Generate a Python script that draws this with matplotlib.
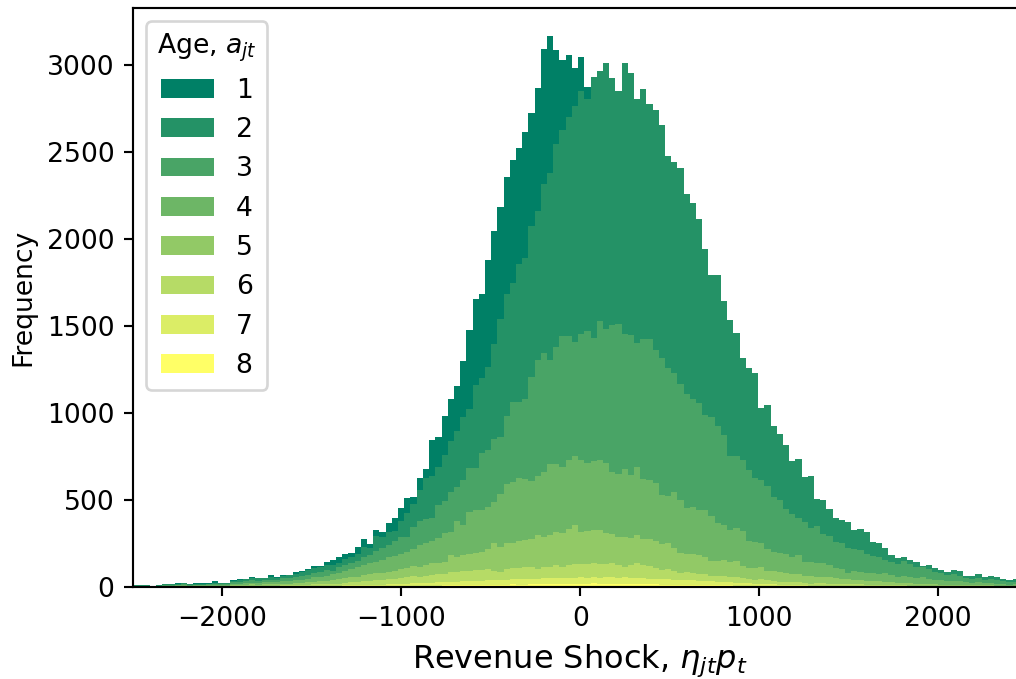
import matplotlib
matplotlib.use("Agg")
import matplotlib.pyplot as plt
import numpy as np

# revenue shock histogram: first bin edge and bin width
bin_start = -2510.4
bin_width = 34.7

# firm counts per bin, one list per age
age_1 = [
    0, 1, 0, 0, 1, 2, 0, 2, 2, 0,
    1, 8, 1, 9, 1, 1, 3, 4, 3, 5,
    2, 2, 14, 2, 5, 3, 10, 6, 9, 15,
    8, 16, 29, 34, 31, 27, 40, 44, 19, 34,
    25, 48, 76, 71, 82, 42, 71, 54, 207, 172,
    226, 237, 258, 322, 454, 496, 479, 617, 648, 646,
    675, 708, 666, 727, 650, 706, 773, 787, 539, 403,
    359, 213, 194, 65, 0, 0, 0, 0, 0, 0,
    0, 0, 0, 0, 0, 0, 0, 0, 0, 0,
    0, 0, 0, 0, 0, 0, 0, 0, 0, 0,
    0, 0, 0, 0, 0, 0, 0, 0, 0, 0,
    0, 0, 0, 0, 0, 0, 0, 0, 0, 0,
    0, 0, 0, 0, 0, 0, 0, 0, 0, 0,
    0, 0, 0, 0, 0, 0, 0, 0, 0, 0,
    0, 0, 0,
]
age_2 = [
    3, 2, 4, 2, 3, 4, 5, 5, 6, 5,
    6, 4, 5, 6, 7, 6, 9, 11, 12, 14,
    13, 14, 13, 14, 17, 18, 19, 25, 26, 26,
    29, 32, 32, 19, 33, 30, 37, 58, 42, 86,
    63, 77, 56, 96, 142, 134, 176, 235, 243, 221,
    263, 293, 324, 364, 337, 473, 431, 473, 549, 679,
    700, 683, 798, 810, 869, 859, 971, 1078, 1168, 1183,
    1256, 1358, 1398, 1333, 1500, 1439, 1529, 1420, 1339, 1557,
    1509, 1404, 1438, 1350, 1378, 1337, 1216, 1212, 1241, 1149,
    1126, 1053, 956, 817, 871, 771, 781, 706, 585, 583,
    602, 411, 464, 407, 376, 365, 303, 341, 254, 299,
    154, 195, 155, 135, 134, 153, 112, 120, 124, 82,
    81, 67, 42, 29, 19, 23, 29, 8, 23, 19,
    16, 18, 26, 26, 15, 17, 21, 14, 19, 17,
    12, 10, 14,
]
age_3 = [
    3, 3, 2, 2, 2, 4, 4, 5, 5, 4,
    5, 4, 5, 6, 6, 6, 9, 10, 11, 13,
    13, 12, 14, 13, 16, 16, 19, 21, 23, 27,
    28, 32, 19, 35, 32, 39, 38, 48, 48, 61,
    71, 71, 88, 95, 82, 127, 140, 138, 129, 191,
    188, 230, 192, 259, 253, 243, 329, 331, 360, 324,
    388, 456, 435, 458, 594, 668, 687, 595, 672, 750,
    712, 654, 722, 760, 707, 798, 765, 846, 859, 777,
    804, 712, 804, 808, 767, 790, 737, 681, 664, 656,
    623, 617, 544, 570, 558, 518, 422, 414, 412, 407,
    369, 366, 363, 316, 305, 257, 246, 213, 230, 197,
    210, 169, 167, 153, 150, 140, 122, 125, 108, 99,
    95, 80, 73, 77, 88, 76, 67, 59, 56, 48,
    42, 35, 36, 34, 24, 23, 26, 20, 23, 22,
    16, 14, 15,
]
age_4 = [
    2, 2, 2, 2, 2, 3, 3, 4, 4, 3,
    4, 4, 4, 5, 4, 5, 7, 8, 9, 10,
    10, 11, 11, 11, 14, 14, 16, 18, 20, 24,
    26, 28, 35, 38, 44, 45, 54, 57, 61, 67,
    76, 82, 84, 89, 96, 95, 124, 125, 130, 144,
    162, 134, 211, 172, 243, 250, 240, 240, 240, 307,
    343, 351, 361, 351, 334, 335, 370, 408, 389, 380,
    401, 397, 418, 391, 397, 402, 403, 356, 365, 390,
    362, 391, 343, 341, 328, 280, 272, 322, 303, 263,
    271, 259, 269, 255, 215, 199, 184, 188, 198, 157,
    149, 136, 124, 109, 107, 109, 102, 110, 80, 79,
    80, 78, 71, 57, 53, 38, 52, 48, 46, 45,
    43, 49, 41, 33, 39, 34, 30, 35, 29, 25,
    26, 22, 23, 20, 16, 15, 17, 13, 14, 12,
    9, 8, 9,
]
age_5 = [
    2, 2, 2, 1, 2, 2, 3, 3, 3, 3,
    3, 3, 3, 4, 4, 4, 5, 6, 7, 8,
    7, 8, 9, 8, 10, 10, 11, 12, 14, 16,
    17, 19, 22, 24, 26, 30, 31, 37, 41, 41,
    39, 44, 46, 49, 51, 59, 57, 60, 66, 62,
    70, 98, 86, 92, 96, 97, 105, 117, 157, 142,
    146, 144, 157, 157, 159, 198, 174, 184, 192, 195,
    205, 224, 184, 188, 190, 194, 182, 167, 161, 172,
    156, 161, 152, 154, 159, 146, 146, 132, 115, 105,
    109, 110, 100, 90, 84, 94, 88, 94, 69, 62,
    67, 69, 52, 56, 58, 52, 44, 46, 41, 42,
    38, 37, 35, 32, 30, 28, 27, 25, 23, 22,
    21, 18, 19, 16, 15, 15, 12, 13, 10, 9,
    9, 8, 8, 8, 6, 6, 7, 6, 6, 5,
    4, 4, 4,
]
age_6 = [
    1, 1, 1, 1, 1, 1, 1, 1, 2, 1,
    1, 1, 2, 2, 2, 2, 3, 3, 4, 5,
    5, 5, 5, 5, 6, 7, 7, 8, 9, 10,
    10, 11, 11, 12, 15, 16, 18, 20, 22, 24,
    26, 28, 31, 34, 36, 40, 38, 42, 45, 48,
    49, 56, 54, 60, 61, 62, 63, 64, 53, 47,
    62, 66, 64, 68, 70, 56, 66, 68, 73, 68,
    73, 81, 73, 81, 81, 79, 75, 81, 73, 60,
    75, 85, 75, 73, 62, 54, 60, 51, 43, 47,
    41, 37, 39, 30, 36, 34, 32, 31, 28, 26,
    21, 26, 23, 21, 17, 18, 17, 16, 15, 12,
    14, 13, 13, 11, 12, 10, 10, 10, 8, 8,
    8, 7, 7, 6, 6, 5, 5, 5, 4, 4,
    3, 3, 3, 3, 3, 3, 3, 2, 2, 2,
    2, 1, 1,
]
age_7 = [
    0, 0, 0, 0, 0, 1, 1, 1, 1, 1,
    1, 1, 1, 1, 1, 1, 2, 2, 2, 2,
    2, 2, 2, 2, 2, 2, 3, 3, 3, 4,
    4, 5, 5, 6, 6, 7, 7, 8, 8, 10,
    9, 11, 12, 12, 14, 15, 15, 16, 17, 18,
    18, 21, 20, 22, 22, 23, 24, 26, 28, 27,
    29, 30, 30, 31, 31, 32, 32, 33, 35, 32,
    34, 35, 37, 34, 36, 35, 37, 36, 34, 37,
    33, 36, 34, 33, 31, 32, 30, 29, 27, 28,
    26, 25, 23, 22, 20, 19, 17, 17, 16, 15,
    13, 13, 12, 11, 9, 9, 8, 7, 7, 5,
    5, 5, 5, 5, 4, 4, 3, 3, 4, 3,
    3, 3, 2, 2, 2, 2, 1, 1, 1, 2,
    2, 2, 2, 1, 1, 1, 1, 1, 1, 1,
    1, 1, 1,
]
age_8 = [
    0, 0, 0, 0, 0, 0, 0, 0, 0, 0,
    0, 0, 0, 0, 0, 0, 0, 0, 0, 0,
    0, 0, 1, 1, 1, 1, 1, 1, 1, 1,
    1, 1, 2, 2, 3, 3, 3, 4, 4, 4,
    5, 5, 5, 6, 6, 7, 7, 8, 8, 8,
    9, 9, 10, 10, 11, 11, 11, 12, 12, 13,
    13, 15, 14, 14, 16, 15, 17, 16, 18, 17,
    19, 18, 20, 19, 21, 19, 18, 19, 17, 18,
    17, 16, 16, 15, 15, 14, 14, 13, 13, 12,
    12, 11, 11, 10, 10, 9, 9, 8, 8, 7,
    7, 6, 6, 5, 5, 4, 4, 4, 3, 3,
    3, 3, 2, 2, 2, 2, 2, 2, 1, 1,
    1, 1, 1, 1, 1, 1, 1, 1, 1, 0,
    0, 0, 0, 0, 0, 0, 0, 0, 0, 0,
    0, 0, 0,
]
ages = ["1", "2", "3", "4", "5", "6", "7", "8"]

counts = np.array([age_1, age_2, age_3, age_4, age_5, age_6, age_7, age_8])
edges = bin_start + bin_width * np.arange(counts.shape[1] + 1)
colors = plt.cm.summer(np.linspace(0, 1, len(ages)))

fig = plt.figure(figsize=(1016 / 192, 679 / 192), dpi=192)
ax = fig.add_axes([133 / 1016, 92 / 679, 894.5 / 1016, 579 / 679])

# stacked histogram, youngest firms on top: draw each cumulative
# layer from zero so the older ones paint over the lower part
tops = np.cumsum(counts[::-1], axis=0)[::-1]
for label, top, c in zip(ages, tops, colors):
    ax.stairs(top, edges, baseline=0, fill=True, color=c, lw=0, label=label)

ax.set_xlim(-2500, 2500)
ax.set_ylim(0, tops[0].max() * 1.05)
ax.set_xlabel(r"Revenue Shock, $\eta_{jt}p_t$", fontsize=12)
ax.set_ylabel("Frequency")
ax.legend(title=r"Age, $a_{jt}$", loc="upper left")

fig.savefig("out.png", dpi=192)
